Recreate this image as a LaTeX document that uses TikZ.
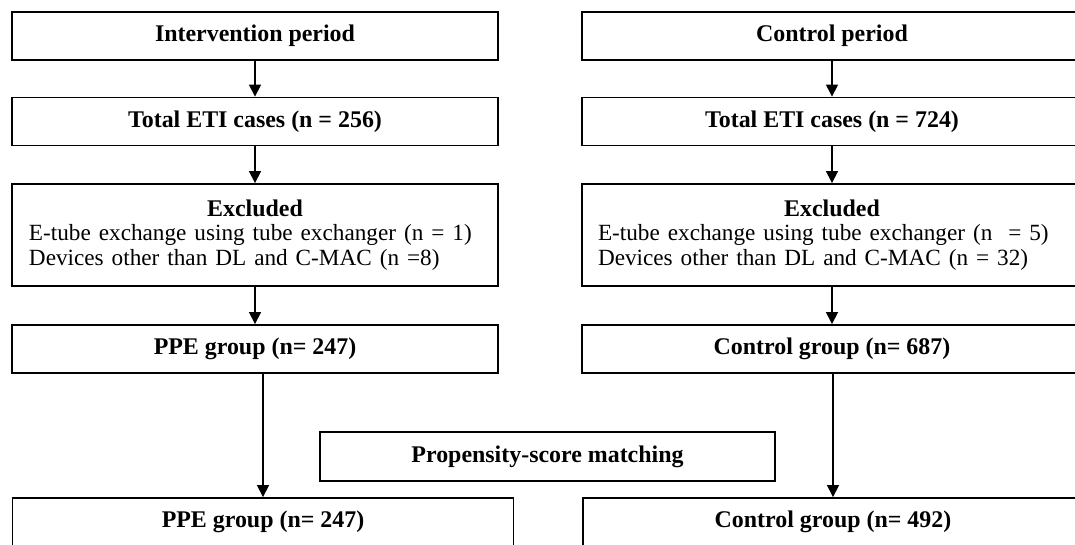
\documentclass[tikz,border=0pt]{standalone}
\usepackage{fontspec}
\setmainfont{Liberation Serif}
\usetikzlibrary{arrows.meta,calc}

\begin{document}
\begin{tikzpicture}[x=1bp,y=-1bp,
    box/.style={draw,line width=1.8bp,inner sep=0pt,minimum height=48bp,
      font=\fontsize{24}{25}\selectfont\bfseries},
    exclbox/.style={box,align=left,minimum height=102bp},
    arr/.style={-{Triangle[width=12bp,length=12bp]},line width=1.2bp}]
      \useasboundingbox (0,0) rectangle (1075,545);
      \clip (0,0) rectangle (1075,545);

      % intervention side
      \node[box,minimum width=486bp] (intL) at (255,36) {Intervention period};
      \node[box,minimum width=486bp] (totL) at (255,121.5) {Total ETI cases (n = 256)};
      \node[exclbox,minimum width=486bp,text width=452bp] (excL) at (255,235)
        {\makebox[\hsize]{Excluded}\\
         \mdseries\fontsize{23.3}{24}\selectfont\mbox{E-tube exchange using tube exchanger (n = 1)}\\
         \mbox{Devices other than DL and C-MAC (n =8)}};
      \node[box,minimum width=486bp] (ppeL) at (255,349) {PPE group (n= 247)};

      % control side
      \node[box,minimum width=500bp] (intR) at (832,36) {Control period};
      \node[box,minimum width=500bp] (totR) at (832,121.5) {Total ETI cases (n = 724)};
      \node[exclbox,minimum width=500bp,text width=468bp] (excR) at (832,235)
        {\makebox[\hsize]{Excluded}\\
         \mdseries\fontsize{23.3}{24}\selectfont\mbox{E-tube exchange using tube exchanger (n~~= 5)}\\
         \mbox{Devices other than DL and C-MAC (n = 32)}};
      \node[box,minimum width=500bp] (ctrlR) at (832,349) {Control group (n= 687)};

      % matched groups
      \node[box,minimum width=455bp,minimum height=49bp] (psm) at (547.5,456.5) {Propensity-score matching};
      \node[box,minimum width=501bp] (ppeM) at (263,522) {PPE group (n= 247)};
      \node[box,minimum width=500bp] (ctrlM) at (833,522) {Control group (n= 492)};

      \draw[arr] (intL) -- (totL);
      \draw[arr] (totL) -- (excL);
      \draw[arr] (excL) -- (ppeL);
      \draw[arr] (ppeL.south -| ppeM.north) -- (ppeM.north);

      \draw[arr] (intR) -- (totR);
      \draw[arr] (totR) -- (excR);
      \draw[arr] (excR) -- (ctrlR);
      \draw[arr] (ctrlR.south -| ctrlM.north) -- (ctrlM.north);

\end{tikzpicture}
\end{document}
